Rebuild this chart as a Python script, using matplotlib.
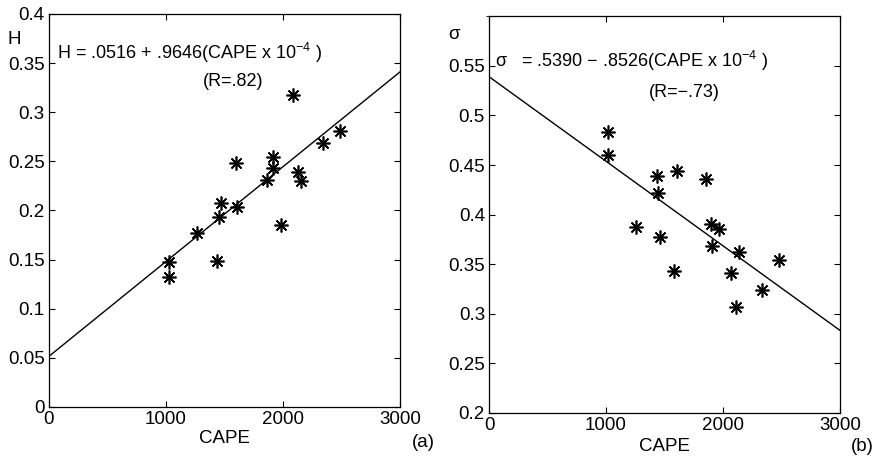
import numpy as np
import matplotlib
matplotlib.use('Agg')
import matplotlib.pyplot as plt

plt.rcParams['font.family'] = ['Liberation Sans', 'DejaVu Sans']
plt.rcParams['mathtext.fontset'] = 'custom'
plt.rcParams['mathtext.rm'] = 'Liberation Sans'
plt.rcParams['mathtext.it'] = 'Liberation Sans'
plt.rcParams['mathtext.default'] = 'regular'

# ---- data: (a) H vs CAPE ----
cape_a = [1028, 1028, 1262, 1439, 1450, 1467, 1595, 1607, 1860,
          1912, 1917, 1983, 2088, 2131, 2151, 2339, 2487]
H_vals = [0.1475, 0.132, 0.177, 0.149, 0.193, 0.2075, 0.2485, 0.204, 0.231,
          0.243, 0.254, 0.185, 0.317, 0.239, 0.230, 0.269, 0.281]
H_fit = (0.0516, 0.9646)      # intercept, slope per 10^4 CAPE

# ---- data: (b) sigma vs CAPE ----
cape_b = [1020, 1020, 1255, 1432, 1445, 1462, 1582, 1604, 1858,
          1900, 1902, 1966, 2072, 2111, 2137, 2331, 2479]
sig_vals = [0.483, 0.460, 0.388, 0.4387, 0.422, 0.377, 0.343, 0.444, 0.436,
            0.3905, 0.368, 0.385, 0.3416, 0.307, 0.362, 0.324, 0.354]
sig_fit = (0.5390, -0.8526)

xticks = [0, 1000, 2000, 3000]
fs = 13.5
fs_eq = 13

fig = plt.figure(figsize=(8.78, 4.63), dpi=100)
ax1 = fig.add_axes([0.0558, 0.121, 0.3998, 0.849])
ax2 = fig.add_axes([0.557, 0.108, 0.3998, 0.857])

def style(ax, ylim, yticks):
    ax.set_xlim(0, 3000)
    ax.set_ylim(*ylim)
    ax.set_xticks(xticks)
    ax.set_xticklabels([str(t) for t in xticks])
    ax.set_yticks(yticks)
    ax.set_yticklabels([('%g' % t) for t in yticks])
    ax.tick_params(direction='in', top=True, right=True, length=4,
                   width=0.8, labelsize=fs, pad=3)
    for s in ax.spines.values():
        s.set_linewidth(0.9)

xx = np.array([0, 3000])
star = (8, 2, 0)

# (a)
ax1.plot(xx, H_fit[0] + H_fit[1] * xx * 1e-4, color='black', lw=1.0)
ax1.plot(cape_a, H_vals, linestyle='none', marker=star, markersize=10,
         markeredgewidth=1.2, color='black')
style(ax1, (0, 0.4), [0, 0.05, 0.1, 0.15, 0.2, 0.25, 0.3, 0.35, 0.4])
ax1.text(-0.117, 0.935, 'H', transform=ax1.transAxes, fontsize=fs, va='center')
ax1.text(68, 0.360, 'H = .0516 + .9646(CAPE x 10$^{-4}$ )', fontsize=fs_eq, va='center')
ax1.text(1316, 0.331, '(R=.82)', fontsize=fs_eq, va='center')
ax1.set_xlabel('CAPE', fontsize=fs, labelpad=1)
ax1.text(1.035, -0.09, '(a)', transform=ax1.transAxes, fontsize=fs, va='center')

# (b)
ax2.plot(xx, sig_fit[0] + sig_fit[1] * xx * 1e-4, color='black', lw=1.0)
ax2.plot(cape_b, sig_vals, linestyle='none', marker=star, markersize=10,
         markeredgewidth=1.2, color='black')
style(ax2, (0.2, 0.6), [0.2, 0.25, 0.3, 0.35, 0.4, 0.45, 0.5, 0.55])
ax2.set_yticks([0.6], minor=True)
ax2.text(-0.117, 0.955, 'σ', transform=ax2.transAxes, fontsize=fs, va='center')
ax2.text(50, 0.5545, 'σ   = .5390 − .8526(CAPE x 10$^{-4}$ )', fontsize=fs_eq, va='center')
ax2.text(1370, 0.5235, '(R=−.73)', fontsize=fs_eq, va='center')
ax2.set_xlabel('CAPE', fontsize=fs, labelpad=3)
ax2.text(1.03, -0.085, '(b)', transform=ax2.transAxes, fontsize=fs, va='center')

fig.savefig('out.png', dpi=100)
